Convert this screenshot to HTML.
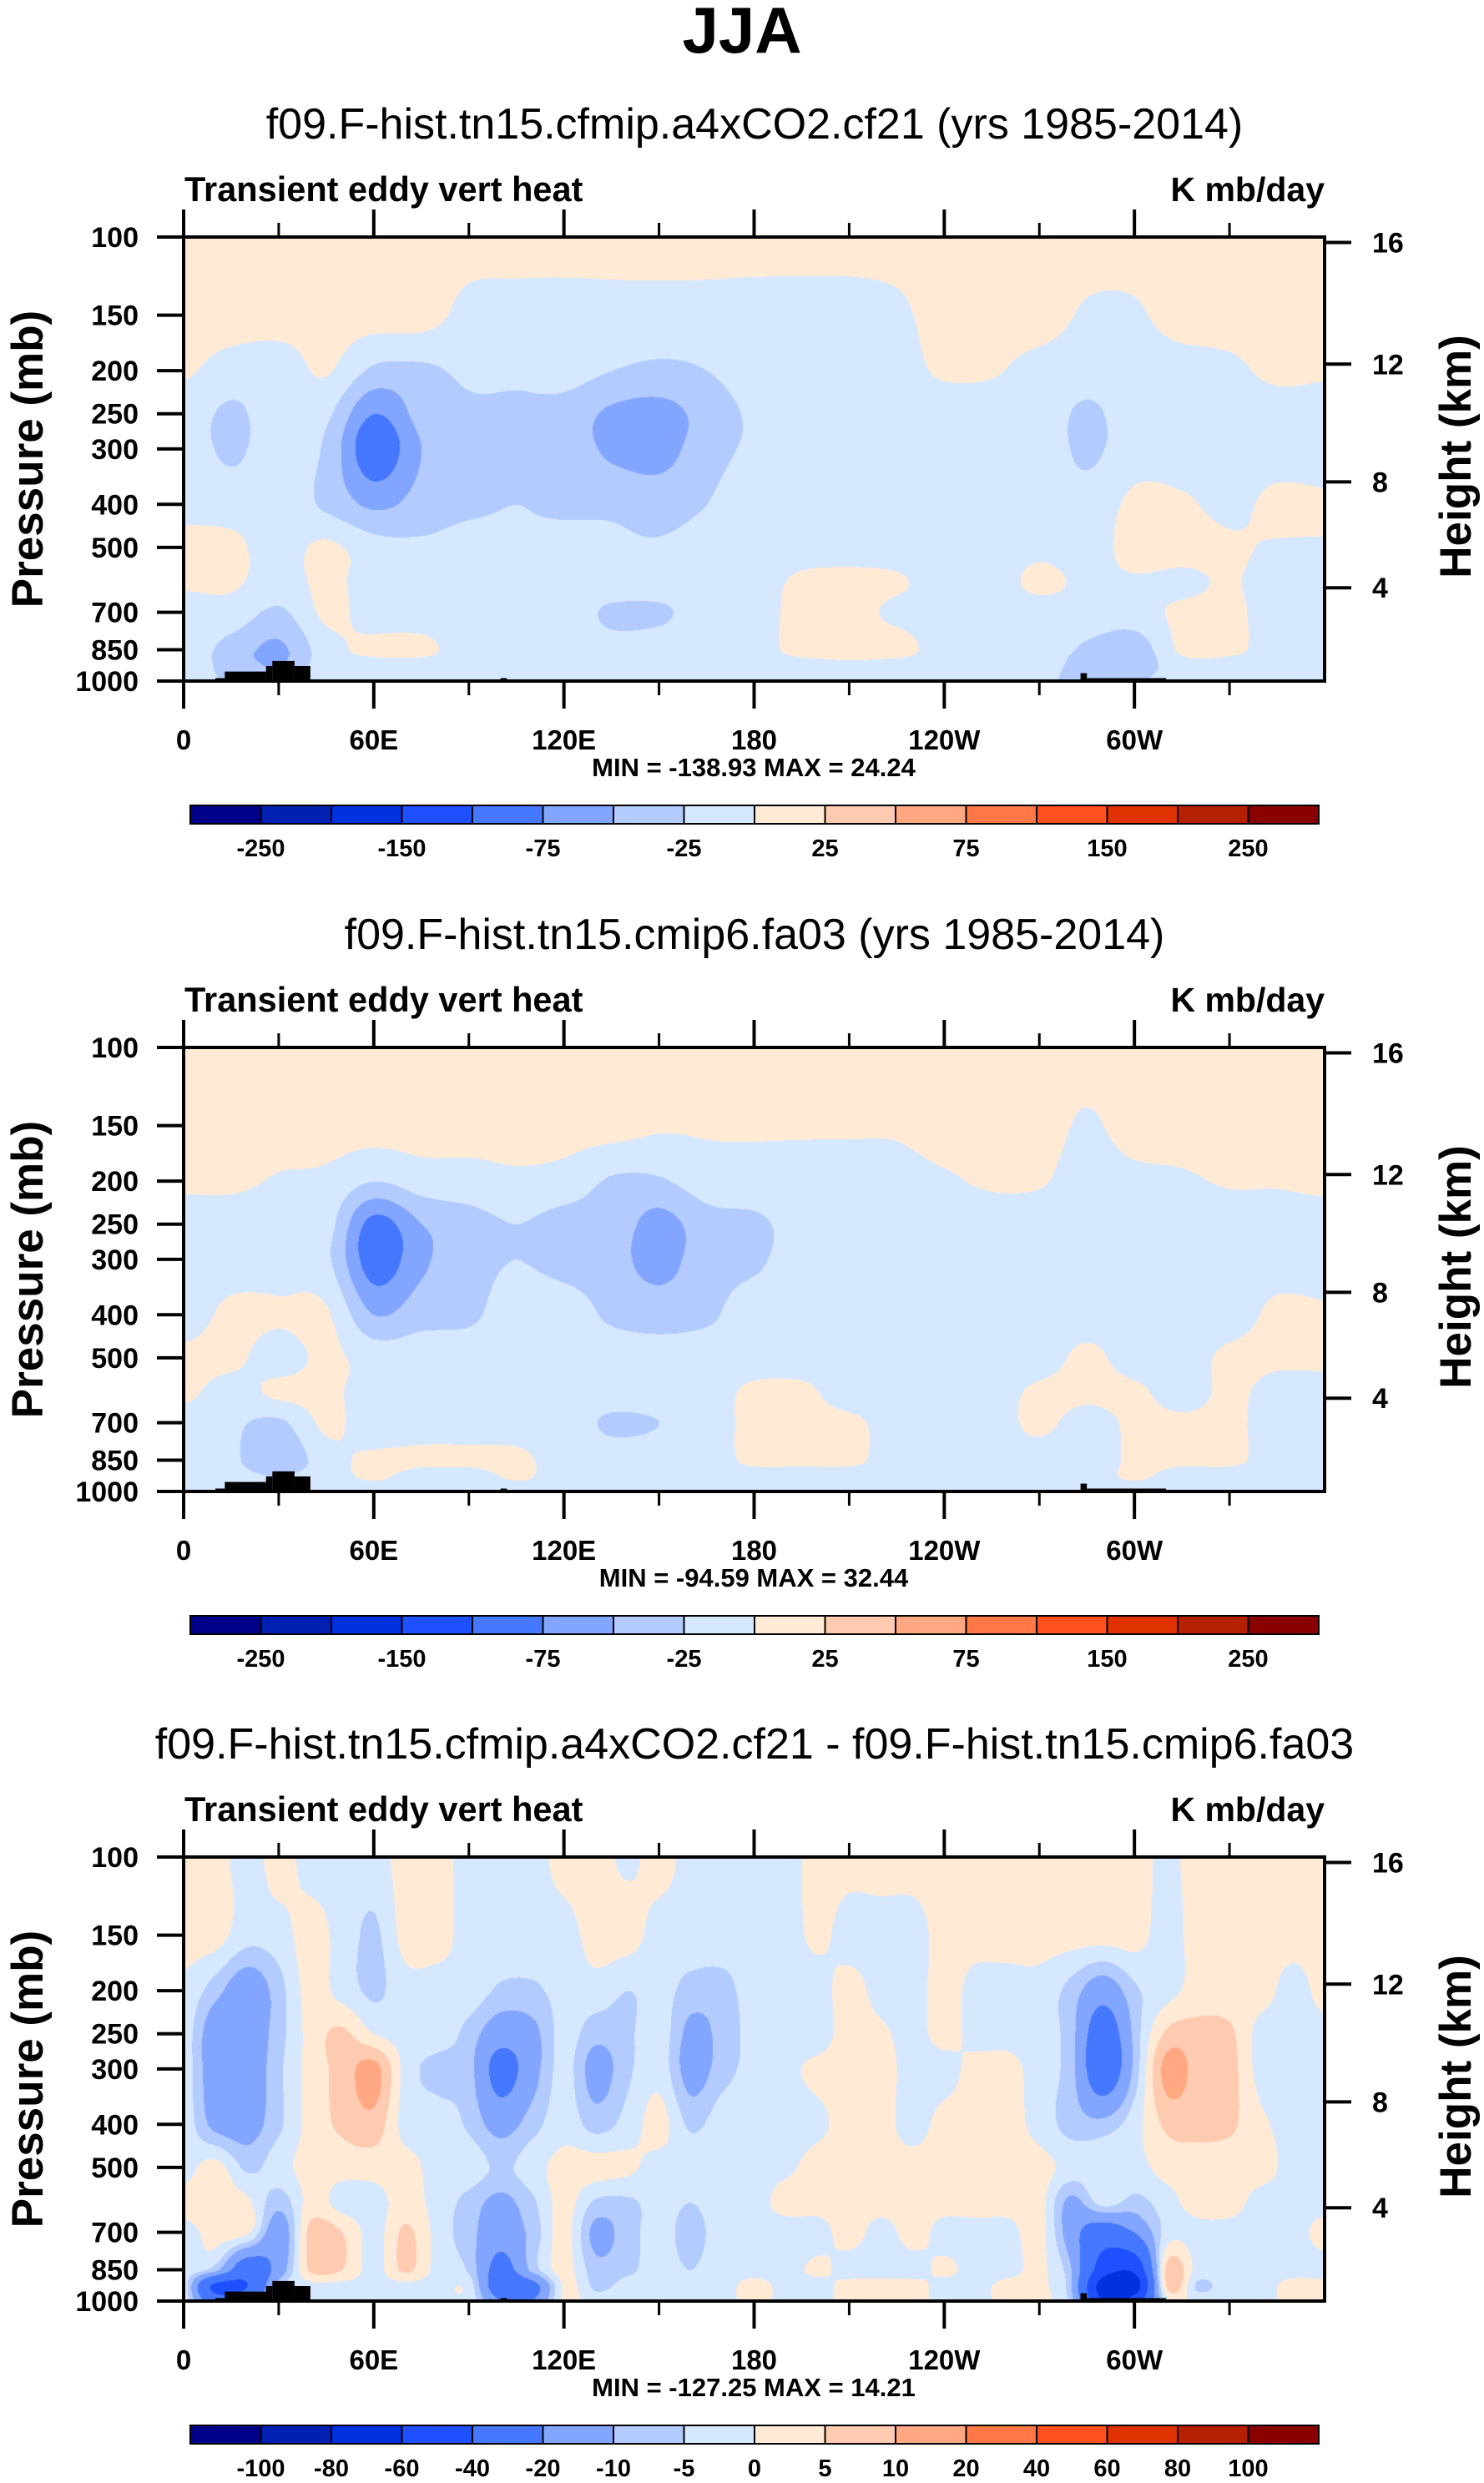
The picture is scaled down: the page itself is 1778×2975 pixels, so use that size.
<!DOCTYPE html>
<html><head><meta charset="utf-8">
<style>
html,body{margin:0;padding:0;background:#fff;}
#wrap{position:relative;width:1778px;height:2975px;overflow:hidden;}
canvas{position:absolute;}
svg{position:absolute;left:0;top:0;}
text{font-family:"Liberation Sans",Arial,sans-serif;fill:#000;}
</style></head>
<body>
<div id="wrap">
<canvas id="c0" width="1367" height="532" style="left:220px;top:284px"></canvas>
<canvas id="c1" width="1367" height="532" style="left:220px;top:1255px"></canvas>
<canvas id="c2" width="1367" height="532" style="left:220px;top:2225px"></canvas>
<svg id="svg" width="1778" height="2975" xmlns="http://www.w3.org/2000/svg">
<text x="889" y="63" text-anchor="middle" font-size="78" font-weight="bold">JJA</text>
</svg>
</div>
<script>
// ---------- data ----------
const levelsP = [100,150,200,250,300,400,500,600,700,850,925,1000];
const field1 = [
[10,10,10,10,10,10,10,10,10,10,10,10,10,10,10,10,10,10,10,10,10,10,10,10,10],
[10,10,10,10,10,10,-8,-10,-10,-10,-10,-10,-10,-10,-10,-5,10,10,10,-3,-3,10,10,10,10],
[3,-10,-12,2,-30,-30,-20,-20,-15,-25,-30,-25,-12,-10,-10,-8,3,2,-8,-12,-10,-10,-5,5,3],
[-10,-30,-10,-20,-75,-40,-30,-30,-35,-55,-60,-40,-20,-10,-10,-10,-10,-10,-10,-30,-10,-10,-10,-10,-10],
[-10,-30,-10,-30,-95,-50,-35,-30,-35,-55,-60,-35,-20,-10,-10,-10,-10,-10,-10,-30,-10,-10,-10,-10,-10],
[-5,-10,-10,-30,-55,-40,-30,-25,-30,-30,-35,-25,-10,-10,-10,-10,-10,-10,-10,-15,5,3,-5,5,3],
[5,5,-10,5,-15,-20,-15,-20,-15,-20,-22,-15,-10,-10,-10,-10,-10,-10,-5,-10,8,8,3,-2,-2],
[3,3,-10,5,-10,-10,-10,-10,-10,-10,-10,-10,-10,5,8,3,-10,-10,5,-5,-3,-5,2,-10,-10],
[-10,-10,-30,5,-10,-10,-10,-10,-10,-30,-30,-10,-10,8,8,-5,-10,-10,-10,-10,-10,5,5,-10,-10],
[-10,-35,-55,-10,5,5,-10,-10,-10,-15,-10,-10,-10,8,8,8,-10,-10,-10,-30,-40,5,5,-10,-10],
[-10,-35,-50,-10,-10,-10,-10,-10,-10,-10,-10,-10,-10,-10,-5,-10,-10,-10,-10,-40,-40,-10,-10,-10,-10],
[-10,-30,-40,-10,-10,-10,-10,-10,-10,-10,-10,-10,-10,-10,-10,-10,-10,-10,-10,-50,-30,-10,-10,-10,-10]
];
const field2 = [
[10,10,10,10,10,10,10,10,10,10,10,10,10,10,10,10,10,10,10,10,10,10,10,10,10],
[10,10,10,10,10,10,10,10,10,10,3,3,3,3,3,3,10,10,10,-3,10,10,10,10,10],
[4,4,-2,-5,-25,-12,-10,-5,-10,-28,-28,-12,-10,-10,-10,-8,-3,3,2,-10,-6,-3,2,2,5],
[-10,-10,-10,-15,-85,-50,-35,-25,-35,-35,-60,-35,-30,-15,-10,-10,-10,-10,-10,-10,-10,-10,-10,-10,-10],
[-10,-10,-10,-20,-90,-55,-35,-25,-35,-40,-60,-35,-30,-10,-10,-10,-10,-10,-10,-10,-10,-10,-10,-10,-10],
[-10,5,3,3,-50,-35,-30,-10,-10,-30,-35,-30,-10,-10,-10,-10,-10,-10,-10,-10,-10,-10,-10,5,3],
[5,5,-10,5,-10,-10,-10,-10,-10,-10,-15,-10,-10,-10,-10,-10,-10,-10,-10,5,-10,-10,5,5,5],
[5,-10,5,5,-10,-10,-10,-10,-10,-10,-10,-10,5,5,-10,-10,-10,-10,5,5,5,-10,5,-10,-10],
[-10,-20,-30,5,-15,-10,-10,-10,-10,-30,-25,-10,5,5,5,-10,-10,-10,5,-10,5,5,5,-10,-10],
[-10,-20,-45,-10,5,5,5,5,-10,-10,-10,-10,5,5,5,-10,-10,-10,-10,-15,5,5,5,-10,-10],
[-10,-15,-25,-10,3,-10,-10,3,-10,-10,-10,-10,-10,-10,-10,-10,-10,-10,-10,-10,3,-10,-10,-10,-10],
[-10,-10,-20,-10,-10,-10,-10,-10,-10,-10,-10,-10,-10,-10,-10,-10,-10,-10,-10,-10,-10,-10,-10,-10,-10]
];
// panel 3 on a 10-degree grid (37 columns)
const field3 = [
[2,2,-2,2,-2,-2,-2,2,2,-2,-2,-2,2,2,-1,2,-2,-2,-2,-2,2,2,2,2,2,2,2,2,2,2,2,-1,2,2,2,2,2],
[2,2,-3,-2,2,-2,-6,2,2,-2,-2,-2,-2,2,2,-2,-2,-2,-2,-2,1,-2,-2,-2,2,2,2,2,2,2,2,-2,2,2,2,2,2],
[-1,-8,-15,-7,2,-2,-6,-2,-2,-2,-6,-6,-3,-2,-5,-3,-7,-7,-2,-2,-2,2,-2,-2,2,-2,-2,-2,-7,-15,-6,-2,2,2,2,-2,2],
[-2,-15,-15,-7,2,6,0,-2,-2,-7,-15,-12,-3,-8,-6,-2,-12,-8,-3,-2,-2,2,1,-2,2,-2,-2,-3,-8,-28,-8,6,7,6,-2,-2,-2],
[-2,-15,-15,-6,2,7,12,-2,-7,-8,-25,-13,-3,-13,-6,-2,-13,-7,-3,-1,1,2,2,-2,-2,2,2,-3,-8,-30,-8,12,8,7,-2,-2,-2],
[-2,-12,-13,-6,2,6,8,-2,-2,-6,-13,-7,-2,-7,-3,2,-6,-2,-2,-2,-1,2,2,-2,2,2,2,-2,-7,-8,-2,6,7,6,1,-2,-2],
[-2,2,-6,-2,2,2,2,2,-2,-2,-6,-2,2,2,1,-2,-2,-2,-2,-1,2,2,2,2,2,2,2,2,-2,-2,-2,2,2,2,2,-2,-2],
[2,2,1,-8,2,-2,-2,2,-2,-7,-12,-6,2,-6,-6,-3,-5,-2,-2,2,2,2,2,2,2,2,2,2,-12,-3,-7,-2,2,2,-2,-2,-2],
[-2,2,1,-15,7,5,-2,6,-2,-8,-15,-8,2,-12,-7,-3,-7,-2,-2,-3,-2,2,-2,2,-2,-2,-2,2,-15,-30,-20,-3,-2,-2,-2,-2,2],
[-2,-8,-30,-15,6,5,-2,6,-2,-6,-25,-8,2,-8,-6,-3,-5,-2,-2,-2,1,-2,-2,-2,1,-2,-2,1,-10,-50,-55,6,-2,-2,-2,-2,-2],
[-2,-45,-40,-6,-2,-2,-2,-2,-2,-2,-30,-25,1,-6,-3,-2,-3,-2,2,-2,-2,2,2,2,-2,-2,2,1,-10,-70,-70,5,-6,-2,-2,2,2],
[-2,-30,-25,-5,-2,-2,-2,-2,-2,-2,-20,-20,1,-3,-2,-2,-2,-2,2,-2,-2,2,2,2,-2,-2,2,1,-8,-60,-50,-2,-2,-2,-2,2,2]
];
const contourLevels12 = [-250,-200,-150,-100,-75,-50,-25,0,25,50,75,100,150,200,250];
const contourLevels3 = [-100,-80,-60,-40,-20,-10,-5,0,5,10,20,40,60,80,100];
const cbLabels12 = ['-250','-150','-75','-25','25','75','150','250'];
const cbLabels3 = ['-100','-80','-60','-40','-20','-10','-5','0','5','10','20','40','60','80','100'];
const palette = ['#00008a','#0020b4','#0032e0','#1e50ff','#4678ff','#82a5ff','#b3cbff','#d6e8ff','#ffead6','#ffcbb0','#ffa882','#ff7846','#ff501e','#e03200','#b42000','#8a0000'];
const pressureTicks = [100,150,200,250,300,400,500,700,850,1000];
const heightTicks = [4,8,12,16];
const lonMajor = [0,60,120,180,240,300];
const lonLabels = ['0','60E','120E','180','120W','60W'];
const lonMinor = [30,90,150,210,270,330];
// orography: [lon start, lon end, top pressure]
const oroLon0 = [10,13,26,28,35,100,283,285];
const oroLon1 = [13,26,28,35,40,102,285,310];
const oroTop  = [985,952,925,901,925,985,960,985];
const subtitles = ['f09.F-hist.tn15.cfmip.a4xCO2.cf21 (yrs 1985-2014)','f09.F-hist.tn15.cmip6.fa03 (yrs 1985-2014)','f09.F-hist.tn15.cfmip.a4xCO2.cf21 - f09.F-hist.tn15.cmip6.fa03'];
const minmax = ['MIN = -138.93   MAX =  24.24','MIN = -94.59   MAX =  32.44','MIN = -127.25   MAX =  14.21'];

// ---------- geometry ----------
const PL=220, PR=1587, PW=PR-PL, PH=532;
const panelTops=[284,1255,2225];
function xLon(lon){return PL+lon/360*PW;}
function yP(p,top){return top+(Math.log10(p)-2)*PH;}
function pOfZ(z){const m=z*1000; if(m<=11000) return 1013.25*Math.pow(1-2.25577e-5*m,5.25588); return 226.32*Math.exp(-(m-11000)/6341.6);}
const LP = levelsP.map(p=>Math.log10(p));
function cr(a,b,c,d,t){return 0.5*((2*b)+(-a+c)*t+(2*a-5*b+4*c-d)*t*t+(-a+3*b-3*c+d)*t*t*t);}
function sample(g,lon,lp){
  const nx=g[0].length, ny=g.length, step=360/(nx-1);
  let fi=lon/step; let i=Math.min(Math.floor(fi),nx-2); let t=fi-i;
  let k=0; while(k<ny-2 && lp>LP[k+1]) k++;
  let u=(lp-LP[k])/(LP[k+1]-LP[k]); u=Math.max(0,Math.min(1,u));
  const ci=j=>Math.max(0,Math.min(nx-1,j)), ck=j=>Math.max(0,Math.min(ny-1,j));
  const row=r=>cr(g[r][ci(i-1)],g[r][ci(i)],g[r][ci(i+1)],g[r][ci(i+2)],t);
  return cr(row(ck(k-1)),row(k),row(k+1),row(ck(k+2)),u);
}
function hexRGB(h){return [parseInt(h.substr(1,2),16),parseInt(h.substr(3,2),16),parseInt(h.substr(5,2),16)];}
const palRGB = palette.map(hexRGB);
function drawField(cid,g,lev){
  const c=document.getElementById(cid), ctx=c.getContext('2d');
  const W=c.width,H=c.height, img=ctx.createImageData(W,H), d=img.data;
  for(let y=0;y<H;y++){const lp=2+y/PH;
    for(let x=0;x<W;x++){const v=sample(g,x/PW*360,lp);
      let idx=0; while(idx<lev.length && v>=lev[idx]) idx++;
      const col=palRGB[idx], o=(y*W+x)*4; d[o]=col[0];d[o+1]=col[1];d[o+2]=col[2];d[o+3]=255;}}
  ctx.putImageData(img,0,0);
}
drawField('c0',field1,contourLevels12);
drawField('c1',field2,contourLevels12);
drawField('c2',field3,contourLevels3);

// ---------- svg overlay ----------
const svg=document.getElementById('svg'), NS='http://www.w3.org/2000/svg';
function mk(tag,attrs,txt){const e=document.createElementNS(NS,tag);for(const k in attrs)e.setAttribute(k,attrs[k]);if(txt!==undefined)e.textContent=txt;svg.appendChild(e);return e;}
for(let pi=0;pi<3;pi++){
  const T=panelTops[pi], B=T+PH, off=T-284;
  let e;
  e=mk('text',{x:904,y:166+off,'text-anchor':'middle','font-size':52},subtitles[pi]);
  
  
  e=mk('text',{x:221,y:241+off,'font-size':41.5,'font-weight':'bold'},'Transient eddy vert heat');
  
  
  e=mk('text',{x:1587,y:241+off,'font-size':41,'font-weight':'bold','text-anchor':'end'},'K mb/day');
  
  
  for(let j=0;j<oroLon0.length;j++){
    e=mk('rect',{x:xLon(oroLon0[j]),y:yP(oroTop[j],T),width:xLon(oroLon1[j])-xLon(oroLon0[j]),height:B-yP(oroTop[j],T),fill:'#000'});
    
    
  }
  e=mk('rect',{x:PL,y:T,width:PW,height:PH,fill:'none',stroke:'#000','stroke-width':4});
  
  
  lonMajor.forEach((lon,j)=>{
    const x=xLon(lon);
    let t=mk('line',{x1:x,x2:x,y1:T-33,y2:T,stroke:'#000','stroke-width':4});
    
    
    t=mk('line',{x1:x,x2:x,y1:B,y2:B+33,stroke:'#000','stroke-width':4});
    
    
    t=mk('text',{x:x,y:B+82,'text-anchor':'middle','font-size':33,'font-weight':'bold'},lonLabels[j]);
    
    
  });
  lonMinor.forEach(lon=>{
    const x=xLon(lon);
    let t=mk('line',{x1:x,x2:x,y1:T-17,y2:T,stroke:'#000','stroke-width':3});
    
    
    t=mk('line',{x1:x,x2:x,y1:B,y2:B+17,stroke:'#000','stroke-width':3});
    
    
  });
  pressureTicks.forEach(p=>{
    const y=yP(p,T);
    let t=mk('line',{x1:PL-32,x2:PL,y1:y,y2:y,stroke:'#000','stroke-width':4});
    
    
    t=mk('text',{x:166,y:y+12,'text-anchor':'end','font-size':34,'font-weight':'bold'},String(p));
    
    
  });
  heightTicks.forEach(z=>{
    const y=yP(pOfZ(z),T);
    let t=mk('line',{x1:PR,x2:PR+32,y1:y,y2:y,stroke:'#000','stroke-width':4});
    
    
    t=mk('text',{x:1644,y:y+12,'font-size':34,'font-weight':'bold'},String(z));
    
    
  });
  e=mk('text',{x:51,y:550+off,'text-anchor':'middle','font-size':53,'font-weight':'bold',transform:'rotate(-90 51 '+(550+off)+')'},'Pressure (mb)');
  
  
  e=mk('text',{x:1762,y:547+off,'text-anchor':'middle','font-size':53,'font-weight':'bold',transform:'rotate(-90 1762 '+(547+off)+')'},'Height (km)');
  
  
  e=mk('text',{x:903,y:930+off,'text-anchor':'middle','font-size':31,'font-weight':'bold','xml:space':'preserve'},minmax[pi]);
  
  
  const cbL=228, cbR=1580, cbT=965+off, cbH=22, n=palette.length, cw=(cbR-cbL)/n;
  palette.forEach((col,j)=>{
    let r=mk('rect',{x:cbL+j*cw,y:cbT,width:cw,height:cbH,fill:col,stroke:'#000','stroke-width':2});
    
    
  });
  const labs = pi<2?cbLabels12:cbLabels3;
  const step = pi<2?2:1;
  labs.forEach((lab,j)=>{
    const x=cbL+(1+j*step)*cw;
    let t=mk('text',{x:x,y:1026+off,'text-anchor':'middle','font-size':29,'font-weight':'bold'},lab);
    
    
  });
}
</script>
</body></html>
